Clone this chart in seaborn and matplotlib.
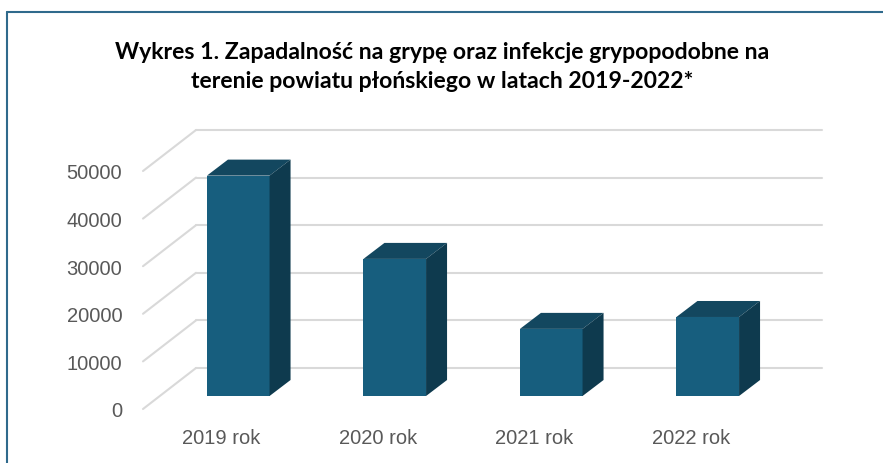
import matplotlib
matplotlib.use("Agg")
import matplotlib.pyplot as plt
import matplotlib.transforms as mtransforms
from matplotlib.patches import Polygon
from matplotlib.lines import Line2D
import seaborn as sns

# data
years = ["2019 rok", "2020 rok", "2021 rok", "2022 rok"]
cases = [46300, 28800, 14100, 16600]
y_ticks = [0, 10000, 20000, 30000, 40000, 50000]

title = ("Wykres 1. Zapadalność na grypę oraz infekcje grypopodobne na\n"
         "terenie powiatu płońskiego w latach 2019-2022*")

FRONT = "#175E7E"
TOP = "#13475F"
SIDE = "#0E3A4E"
GRID = "#D9D9D9"
TEXT = "#595959"

DPI = 100
W, H = 883, 464

# oblique "3D" offsets in pixels (display coords, y up)
BACK = (36, 28)      # bar plane -> back wall
FRONT_EDGE = (-17, -13)  # bar plane -> front floor edge
DEPTH = (21, 16)     # depth of a single bar

sns.set_theme(style="white")
plt.rcParams["font.family"] = ["Liberation Sans", "DejaVu Sans"]

fig = plt.figure(figsize=(W / DPI, H / DPI), dpi=DPI)
ax = fig.add_axes([160 / W, (H - 397) / H, 626 / W, (397 - 159) / H])

sns.barplot(x=years, y=cases, color=FRONT, saturation=1, width=0.4,
            ax=ax, zorder=3, linewidth=0)
ax.set_xlim(-0.5, len(years) - 0.5)
ax.set_ylim(0, 50000)
for s in ax.spines.values():
    s.set_visible(False)
ax.set_facecolor("none")
ax.set_xlabel("")
ax.set_ylabel("")

ident = mtransforms.IdentityTransform()


def disp(x, y, off=(0, 0)):
    px, py = ax.transData.transform((x, y))
    return (px + off[0], py + off[1])


# back wall gridlines + side wall diagonals
x0, x1 = ax.get_xlim()
for v in y_ticks:
    a = disp(x0, v, BACK)
    b = disp(x1, v, BACK)
    c = disp(x0, v, FRONT_EDGE)
    for p, q in [(a, b), (c, a)]:
        ax.add_artist(Line2D([p[0], q[0]], [p[1], q[1]], transform=ident,
                             color=GRID, lw=1.5, zorder=1, clip_on=False))

# top and side faces for each bar
for bar in ax.patches:
    bx, bw, bh = bar.get_x(), bar.get_width(), bar.get_height()
    tl, tr, br = disp(bx, bh), disp(bx + bw, bh), disp(bx + bw, 0)
    top = [tl, tr, disp(bx + bw, bh, DEPTH), disp(bx, bh, DEPTH)]
    side = [br, tr, disp(bx + bw, bh, DEPTH), disp(bx + bw, 0, DEPTH)]
    ax.add_patch(Polygon(top, closed=True, transform=ident, facecolor=TOP,
                         edgecolor="none", zorder=4, clip_on=False))
    ax.add_patch(Polygon(side, closed=True, transform=ident, facecolor=SIDE,
                         edgecolor="none", zorder=4, clip_on=False))

# tick labels sit on the front floor edge
ax.set_yticks(y_ticks)
ax.set_yticklabels([str(v) for v in y_ticks])
ax.tick_params(axis="both", length=0, labelsize=14.5, labelcolor=TEXT)
ax.tick_params(axis="y", pad=15)
ax.tick_params(axis="x", pad=14)
shift = mtransforms.ScaledTranslation(FRONT_EDGE[0] / DPI, FRONT_EDGE[1] / DPI,
                                      fig.dpi_scale_trans)
for lab in ax.get_xticklabels() + ax.get_yticklabels():
    lab.set_transform(lab.get_transform() + shift)

fig.text(442 / W, 1 - 67 / H, title, ha="center", va="center",
         fontsize=16.6, fontweight="bold", family=["Lato", "DejaVu Sans"],
         color="black", linespacing=1.45)

# chart border (only top and left are visible in the crop)
border = "#2F6A8C"
fig.add_artist(Line2D([7 / W, 7 / W], [0, 1 - 13 / H], color=border, lw=1.5,
                      transform=fig.transFigure))
fig.add_artist(Line2D([7 / W, 1], [1 - 13 / H, 1 - 13 / H], color=border,
                      lw=1.5, transform=fig.transFigure))

fig.savefig("out.png", dpi=DPI)
